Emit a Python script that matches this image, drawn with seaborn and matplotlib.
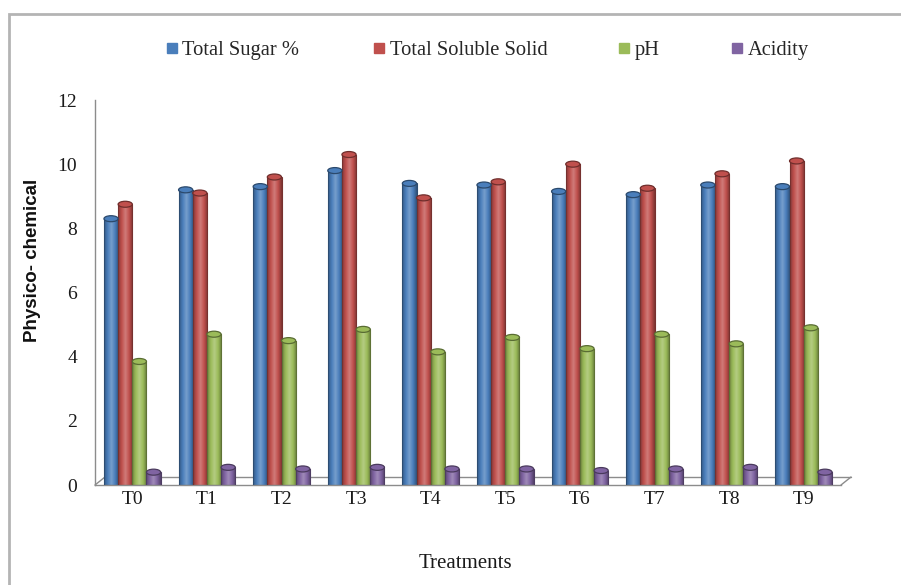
import numpy as np
import pandas as pd
import matplotlib
matplotlib.use("Agg")
import matplotlib.pyplot as plt
import seaborn as sns
from matplotlib.patches import Ellipse, Rectangle
from matplotlib.lines import Line2D
from matplotlib.transforms import ScaledTranslation
from matplotlib.colors import LinearSegmentedColormap, to_rgb

# ---- data ----
treatments = ["T0", "T1", "T2", "T3", "T4", "T5", "T6", "T7", "T8", "T9"]
total_sugar = [8.3, 9.2, 9.3, 9.8, 9.4, 9.35, 9.15, 9.05, 9.35, 9.3]
total_soluble_solid = [8.75, 9.1, 9.6, 10.3, 8.95, 9.45, 10.0, 9.25, 9.7, 10.1]
ph = [3.85, 4.7, 4.5, 4.85, 4.15, 4.6, 4.25, 4.7, 4.4, 4.9]
acidity = [0.4, 0.55, 0.5, 0.55, 0.5, 0.5, 0.45, 0.5, 0.55, 0.4]

series_names = ["Total Sugar %", "Total Soluble Solid", "pH", "Acidity"]
series_colors = ["#4a7ebb", "#c0504d", "#9bbb59", "#8064a2"]

df = pd.DataFrame({
    "Treatment": treatments * 4,
    "Parameter": np.repeat(series_names, len(treatments)),
    "Value": total_sugar + total_soluble_solid + ph + acidity,
})

sns.set_style("white")
serif = ["Liberation Serif", "DejaVu Serif"]
sans = ["Liberation Sans", "DejaVu Sans"]

fig = plt.figure(figsize=(9.01, 5.85), dpi=100)
W, H = 901, 585
ax = fig.add_axes([95 / W, 1 - 485 / H, (841 - 95) / W, (485 - 100) / H])

sns.barplot(data=df, x="Treatment", y="Value", hue="Parameter",
            hue_order=series_names, palette=series_colors, order=treatments,
            width=0.76, ax=ax, legend=False, saturation=1.0, errorbar=None)

ax.set_xlim(-0.5, 9.5)
ax.set_ylim(0, 12)
ax.set_yticks(range(0, 13, 2))
ax.set_xlabel("")
ax.set_ylabel("")

# cylinder-like shading for every bar
px_per_unit = (485 - 100) / 12.0
for patch, color in zip(ax.patches, np.repeat(series_colors, len(treatments))):
    x0, y0 = patch.get_x(), patch.get_y()
    w, h = patch.get_width(), patch.get_height()
    if h <= 0:
        continue
    base = np.array(to_rgb(color))
    dark = base * 0.72
    light = np.clip(base + (1 - base) * 0.25, 0, 1)
    cmap = LinearSegmentedColormap.from_list(
        "cyl", [dark, base, light, base, dark * 0.9])
    xc = x0 + w / 2
    grad = np.linspace(0, 1, 64).reshape(1, -1)
    patch.set_visible(False)
    body = Rectangle((x0, y0), w, h, facecolor="none",
                     edgecolor=dark * 0.85, linewidth=0.8, zorder=3)
    ax.add_patch(body)
    im = ax.imshow(grad, cmap=cmap, aspect="auto",
                   extent=(x0, x0 + w, y0, h),
                   zorder=2.5, interpolation="bilinear")
    im.set_clip_path(body)
    cap = Ellipse((xc, h), w, 6 / px_per_unit, facecolor=base,
                  edgecolor=dark * 0.8, linewidth=0.9, zorder=4)
    ax.add_patch(cap)

# axes styling
axis_gray = "#8c8c8c"
for side in ["top", "right"]:
    ax.spines[side].set_visible(False)
ax.spines["left"].set_color(axis_gray)
ax.spines["bottom"].set_color(axis_gray)
ax.spines["left"].set_linewidth(1.0)
ax.spines["bottom"].set_linewidth(1.0)

ax.tick_params(axis="y", which="major", direction="out", length=7,
               color=axis_gray, width=1.0, labelsize=14, pad=6)
ax.set_xticks(np.arange(-0.5, 10, 1.0), minor=True)
ax.tick_params(axis="x", which="minor", direction="out", length=7,
               color=axis_gray, width=1.0)
ax.tick_params(axis="x", which="major", length=0, labelsize=14, pad=4)
for lab in ax.get_xticklabels() + ax.get_yticklabels():
    lab.set_fontfamily(serif)
    lab.set_color("#1a1a1a")

# floor of the chart (back edge offset up and to the right)
off = ScaledTranslation(10 / 100, 8 / 100, fig.dpi_scale_trans)
ax.plot([-0.5, 9.5], [0, 0], color=axis_gray, lw=1.0,
        transform=ax.transData + off, clip_on=False, zorder=1)
for xe in (-0.5, 9.5):
    p0 = ax.transData.transform((xe, 0))
    p1 = p0 + np.array([10, 8])
    inv = ax.transData.inverted()
    a, b = inv.transform(p0), inv.transform(p1)
    ax.plot([a[0], b[0]], [a[1], b[1]], color=axis_gray, lw=1.0,
            clip_on=False, zorder=1)

# axis titles
fig.text(33 / W, 1 - 260 / H, "Physico- chemical", rotation=90,
         ha="center", va="center", fontsize=13.5, fontweight="bold",
         family=sans, color="#111111")
fig.text(465 / W, 1 - 563 / H, "Treatments", ha="center", va="center",
         fontsize=15, family=serif, color="#1a1a1a")

# legend entries across the top
legend_x = [164, 371, 616, 729]
for name, color, lx in zip(series_names, series_colors, legend_x):
    handle = Line2D([], [], marker="s", linestyle="none", markersize=7.5,
                    markerfacecolor=color, markeredgecolor=color)
    fig.legend([handle], [name], loc="center left",
               bbox_to_anchor=(lx / W, 1 - 50 / H), frameon=False,
               handletextpad=0.1, borderpad=0, borderaxespad=0,
               handlelength=0.8,
               prop={"family": serif, "size": 14.8})

# outer frame
frame = Rectangle((9 / W, -0.05), 1.0, 1 - 14 / H + 0.05,
                  transform=fig.transFigure, facecolor="none",
                  edgecolor="#b4b4b4", linewidth=2.0, clip_on=False)
fig.patches.append(frame)

fig.savefig("out.png", dpi=100)
